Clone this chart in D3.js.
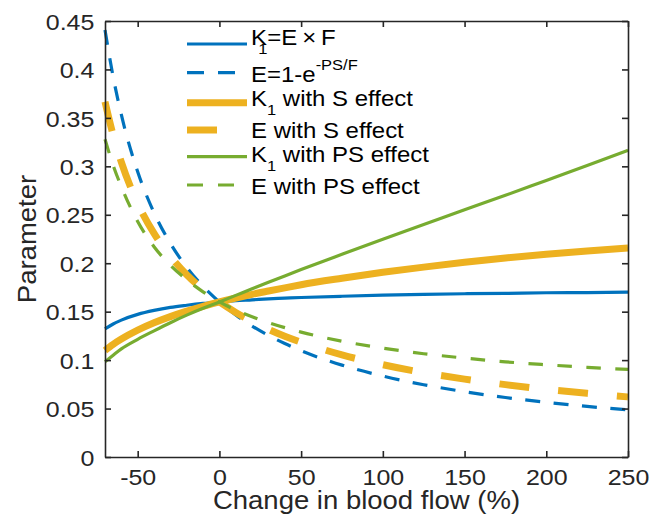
<!DOCTYPE html>
<html><head><meta charset="utf-8">
<script src="https://cdn.jsdelivr.net/npm/d3@7"></script>
<style>body{margin:0;background:#fff}svg{display:block}</style>
</head><body>
<svg id="c" width="652" height="522"></svg>
<script>
// Data
const flowChange = [-70,-65,-60,-50,-40,-30,-20,-10,0,10,20,30,40,50,75,100,125,150,175,200,225,250];
const k1Base = [0.1322,0.1373,0.1413,0.1472,0.1513,0.1544,0.1566,0.1585,0.16,0.1613,0.1622,0.1632,0.1639,0.1646,0.1659,0.1670,0.1679,0.1685,0.1689,0.1695,0.1697,0.1701];
const eBase = [0.4408,0.3923,0.3533,0.2944,0.2522,0.2205,0.1958,0.1761,0.16,0.1466,0.1352,0.1255,0.1171,0.1097,0.0948,0.0835,0.0746,0.0674,0.0614,0.0565,0.0522,0.0486];
const k1S = [0.1100,0.1163,0.1217,0.1309,0.1385,0.1449,0.1505,0.1555,0.16,0.1641,0.1679,0.1713,0.1746,0.1778,0.1845,0.1906,0.1960,0.2010,0.2054,0.2092,0.2126,0.2157];
const eS = [0.3667,0.3322,0.3043,0.2618,0.2308,0.2070,0.1881,0.1728,0.16,0.1492,0.1399,0.1318,0.1247,0.1185,0.1054,0.0953,0.0871,0.0804,0.0747,0.0698,0.0657,0.0620];
const k1PS = [0.0984,0.1051,0.1116,0.1215,0.1302,0.1386,0.1464,0.1535,0.16,0.1668,0.1736,0.1803,0.1869,0.1934,0.2092,0.2248,0.2399,0.2553,0.2701,0.2855,0.3008,0.3165];
const ePS = [0.328,0.301,0.279,0.243,0.217,0.198,0.183,0.1705,0.16,0.1516,0.1447,0.1387,0.1335,0.1289,0.1195,0.1124,0.1066,0.1021,0.0982,0.0952,0.0926,0.0904];
const xTicks = [-50,0,50,100,150,200,250];
const yTicks = [0,0.05,0.1,0.15,0.2,0.25,0.3,0.35,0.4,0.45];
const yTickLabels = ["0","0.05","0.1","0.15","0.2","0.25","0.3","0.35","0.4","0.45"];

const series = [
  {vals:k1Base, color:"#0072BD", w:3.2, dash:null, leg:[["t","K"],["sub","1",-8],["t","=E\u2009\u00D7\u2009F"]]},
  {vals:eBase, color:"#0072BD", w:3.2, dash:"15 13.5", legDash:"17 14", leg:[["t","E=1-e"],["sup","-PS/F"]]},
  {vals:k1S, color:"#EDB120", w:7, dash:"", leg:[["t","K"],["sub","1"],["t"," with S effect"]]},
  {vals:eS, color:"#EDB120", w:7, dash:"30 29", legDash:"30 40", leg:[["t","E with S effect"]]},
  {vals:k1PS, color:"#77AC30", w:3.2, dash:null, leg:[["t","K"],["sub","1"],["t"," with PS effect"]]},
  {vals:ePS, color:"#77AC30", w:3.2, dash:"14.5 14.5", legDash:"16 15", leg:[["t","E with PS effect"]]}
];

const svg = d3.select("#c");
const L=105, R=628, T=21, B=457;
const x = d3.scaleLinear().domain([-70,250]).range([L,R]);
const y = d3.scaleLinear().domain([0,0.45]).range([B,T]);
const axisCol = "#262626";
const font = "'Liberation Sans', Arial, Helvetica, sans-serif";
const SX = 1.1;

// lines
const line = d3.line().x((d,i)=>x(flowChange[i])).y(d=>y(d)).curve(d3.curveMonotoneX);
series.forEach(s=>{
  svg.append("path").attr("d", line(s.vals)).attr("fill","none")
    .attr("stroke", s.color).attr("stroke-width", s.w)
    .attr("stroke-dasharray", s.dash || null);
});

// axes
const gx = svg.append("g").attr("transform",`translate(0,${B})`)
  .call(d3.axisBottom(x).tickValues(xTicks).tickSizeInner(-6).tickSizeOuter(0).tickFormat(d=>String(d)));
const gxt = svg.append("g").attr("transform",`translate(0,${T})`)
  .call(d3.axisTop(x).tickValues(xTicks).tickSizeInner(-6).tickSizeOuter(0).tickFormat(""));
const gy = svg.append("g").attr("transform",`translate(${L},0)`)
  .call(d3.axisLeft(y).tickValues(yTicks).tickSizeInner(-6).tickSizeOuter(0).tickPadding(9.7)
    .tickFormat((d,i)=>yTickLabels[i]));
const gyr = svg.append("g").attr("transform",`translate(${R},0)`)
  .call(d3.axisRight(y).tickValues(yTicks).tickSizeInner(-6).tickSizeOuter(0).tickFormat(""));
[gx,gxt,gy,gyr].forEach(g=>{
  g.select(".domain").attr("stroke",axisCol).attr("stroke-width",1.6);
  g.selectAll(".tick line").attr("stroke",axisCol).attr("stroke-width",1.6);
  g.selectAll(".tick text").attr("fill",axisCol).style("font-family",font).style("font-size","22.7px")
    .attr("transform",`scale(${SX},1)`);
});
gx.selectAll(".tick text").attr("dy",null).attr("y",28);
gy.selectAll(".tick text").attr("dy","0.36em");

// axis labels
svg.append("text").attr("transform",`translate(${(L+R)/2},509) scale(${SX},1)`).attr("text-anchor","middle")
  .attr("fill",axisCol).style("font-family",font).style("font-size","25px")
  .text("Change in blood flow (%)");
svg.append("text").attr("transform",`translate(36,${(T+B)/2}) rotate(-90) scale(${SX},1)`).attr("text-anchor","middle")
  .attr("fill",axisCol).style("font-family",font).style("font-size","25px")
  .text("Parameter");

// legend
const legLineY = [44,72.7,102.7,130,156.7,185];
const legBase = [45,82.3,106,138.3,161.7,194];
series.forEach((s,i)=>{
  svg.append("line").attr("x1",187).attr("x2",247).attr("y1",legLineY[i]).attr("y2",legLineY[i])
    .attr("stroke",s.color).attr("stroke-width",s.w)
    .attr("stroke-dasharray", s.legDash || null);
  const t = svg.append("text").attr("transform",`translate(251,${legBase[i]}) scale(${SX},1)`).attr("fill","#000")
    .style("font-family",font).style("font-size","21.8px");
  let shift = 0;
  s.leg.forEach(p=>{
    if(p[0]==="t"){
      const sp = t.append("tspan").attr("dy",-shift).text(p[1]);
      if(p[2]) sp.attr("dx",p[2]);
      shift=0;
    } else if(p[0]==="sub"){
      const sp = t.append("tspan").attr("dy",9).style("font-size","15px").text(p[1]); shift=9;
      if(p[2]) sp.attr("dx",p[2]);
    } else {
      t.append("tspan").attr("dy",-12).style("font-size","15px").text(p[1]); shift=-12;
    }
  });
});
</script>
</body></html>
